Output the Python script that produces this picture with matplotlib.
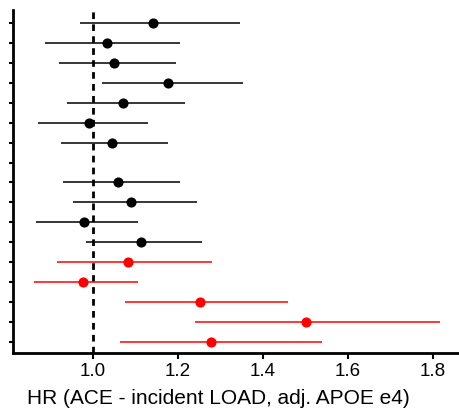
import numpy as np
import matplotlib
matplotlib.use("Agg")
import matplotlib.pyplot as plt

plt.rcParams["font.family"] = ["Liberation Sans", "DejaVu Sans"]

# rows top to bottom; None marks the empty row
hr     = [1.142, 1.033, 1.049, 1.176, 1.070, 0.990, 1.044, None,
          1.058, 1.089, 0.980, 1.112, 1.083, 0.977, 1.252, 1.501, 1.278]
ci_low = [0.969, 0.887, 0.921, 1.021, 0.940, 0.871, 0.925, None,
          0.929, 0.952, 0.866, 0.984, 0.916, 0.861, 1.075, 1.240, 1.064]
ci_high = [1.346, 1.205, 1.195, 1.352, 1.217, 1.129, 1.177, None,
           1.205, 1.245, 1.107, 1.257, 1.281, 1.105, 1.458, 1.817, 1.538]
groups = ["black"] * 12 + ["red"] * 5

fig = plt.figure(figsize=(4.59, 4.11), dpi=100)
ax = fig.add_axes([0.0283, 0.1411, 0.9717, 0.8346])

n = len(hr)
ypos = np.arange(n, 0, -1)
for y, m, lo, hi, c in zip(ypos, hr, ci_low, ci_high, groups):
    if m is None:
        continue
    ax.hlines(y, lo, hi, color=c, linewidth=1.1, zorder=2)
    ax.plot(m, y, "o", color=c, markersize=6.3, zorder=3)

ax.axvline(1.0, color="black", linestyle=(0, (2.4, 1.9)), linewidth=2, zorder=1)

ax.set_xlim(0.812, 1.861)
ax.set_ylim(0.45, n + 0.65)
ax.set_yticks(ypos)
ax.set_yticklabels([])
ax.set_xticks([1.0, 1.2, 1.4, 1.6, 1.8])
ax.set_xticklabels(["1.0", "1.2", "1.4", "1.6", "1.8"], fontsize=13.5)
ax.tick_params(axis="y", length=3, width=1.5, direction="out")
ax.tick_params(axis="x", length=4, width=1.5, direction="out", pad=3)
ax.set_xlabel("HR (ACE - incident LOAD, adj. APOE e4)", fontsize=15)
ax.xaxis.set_label_coords(0.46, -0.105)

for s in ["top", "right"]:
    ax.spines[s].set_visible(False)
for s in ["left", "bottom"]:
    ax.spines[s].set_linewidth(2)

fig.savefig("out.png", dpi=100)
